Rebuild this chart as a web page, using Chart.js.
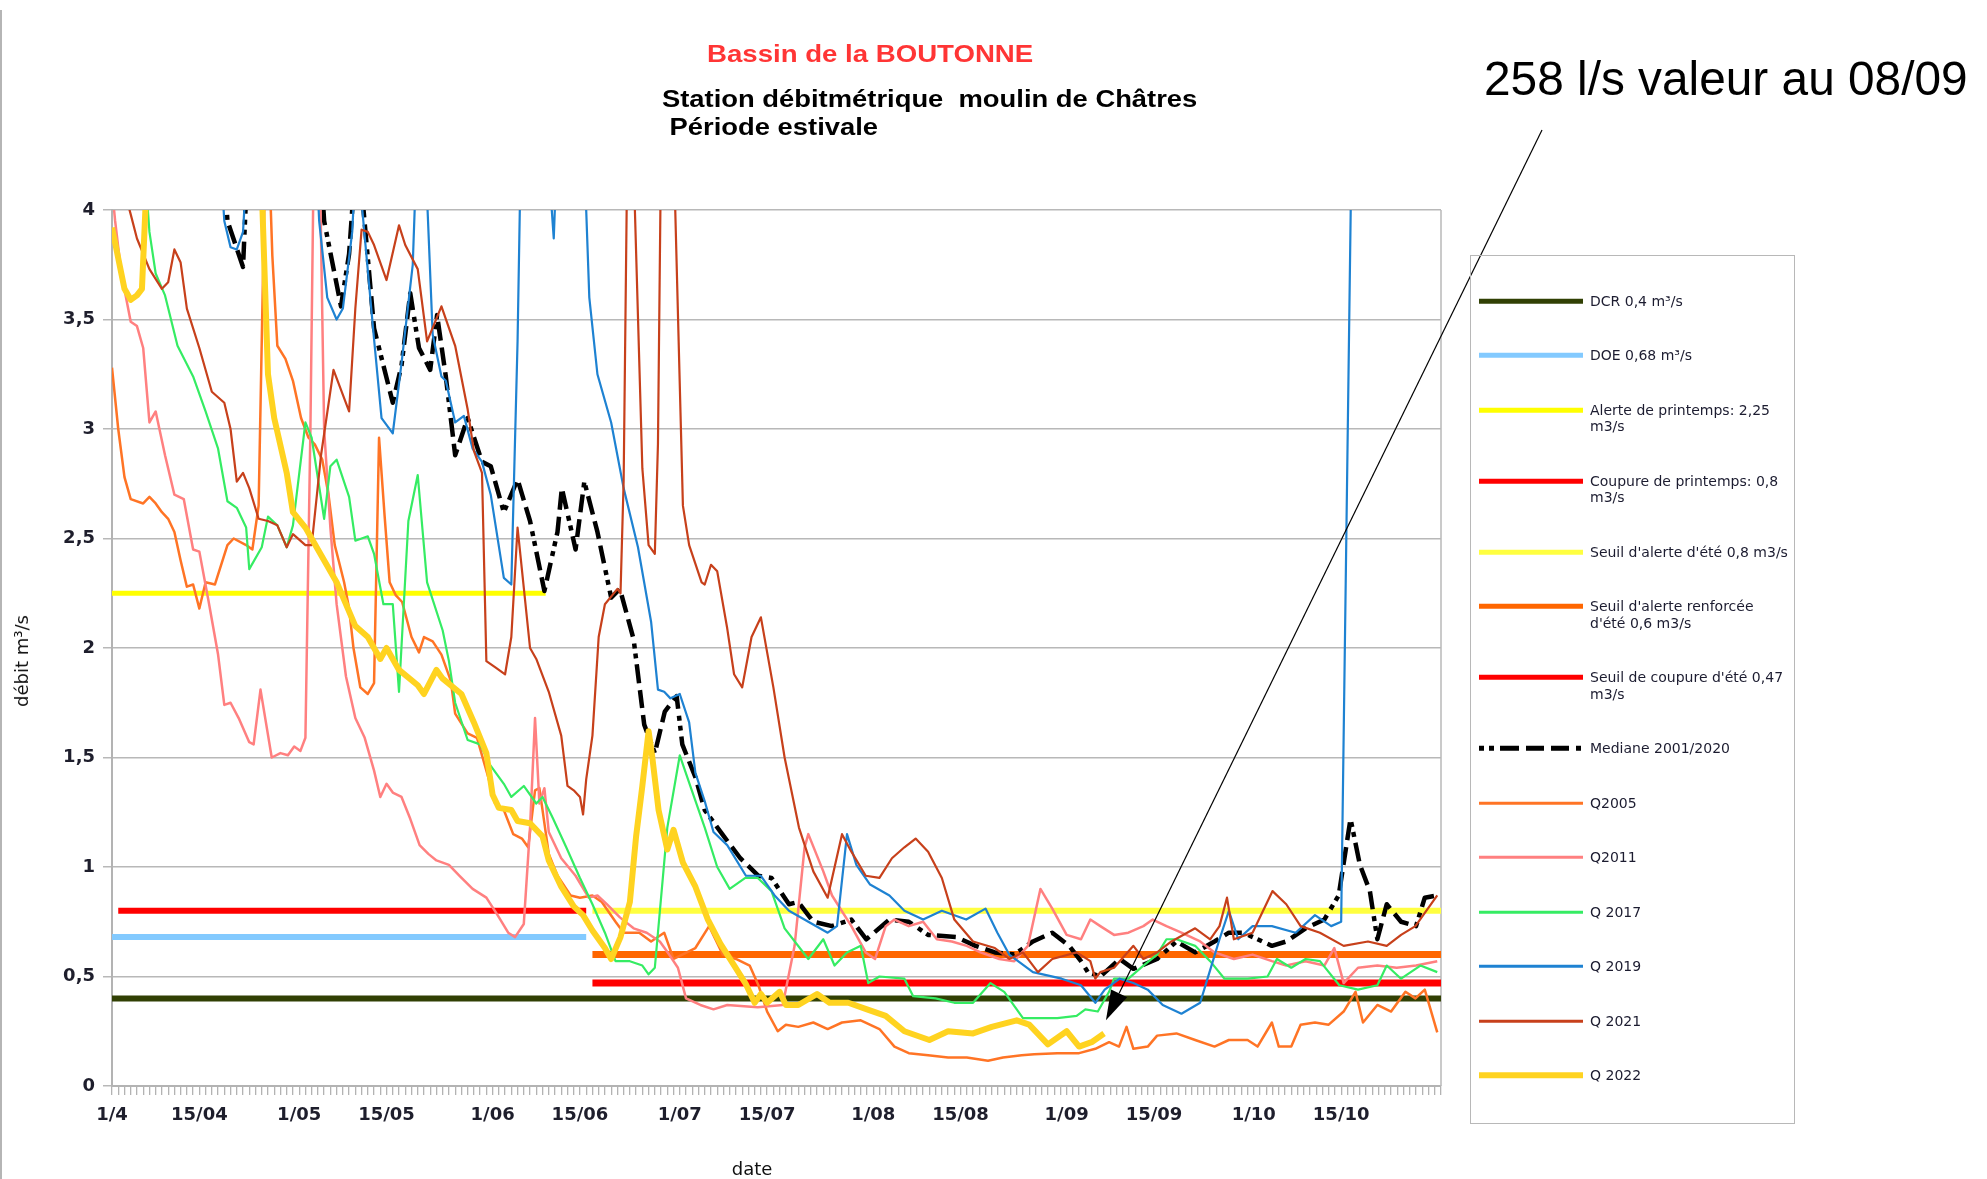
<!DOCTYPE html>
<html>
<head>
<meta charset="utf-8">
<script src="https://cdn.jsdelivr.net/npm/chart.js@4.4.1/dist/chart.umd.min.js"></script>
<style>
  body { margin: 0; background: #fff; width: 1987px; height: 1179px; position: relative; overflow: hidden; font-family: "DejaVu Sans", sans-serif; }
  #edge { position: absolute; left: 0; top: 10px; width: 2px; height: 1169px; background: #b5b5b5; }
  canvas { position: absolute; left: 0; top: 0; }
  .txt { position: absolute; white-space: pre; transform-origin: 0 0; }
  #t1 { left: 707px; top: 42px; font: bold 24px/24px "Liberation Sans", sans-serif; color: #ff3535; transform: scaleX(1.15); }
  #t2 { left: 662px; top: 85px; font: bold 23px/28.3px "Liberation Sans", sans-serif; color: #000; transform: scaleX(1.19); }
  #note { left: 1484px; top: 55px; font: 47.8px/47.8px "Liberation Sans", sans-serif; color: #000; }
  #ytitle { left: 22px; top: 661px; font: 18px/18px "DejaVu Sans", sans-serif; color: #111; transform: translate(-50%, -50%) rotate(-90deg); transform-origin: 50% 50%; }
  #xtitle { left: 752px; top: 1169px; font: 18px/18px "DejaVu Sans", sans-serif; color: #111; transform: translate(-50%, -50%); transform-origin: 50% 50%; }
  #legend { position: absolute; left: 1470px; top: 255px; width: 325px; height: 869px; box-sizing: border-box; border: 1px solid #b8b8b8; }
  .row { position: absolute; left: 0; width: 323px; }
  .row svg { position: absolute; left: 7px; top: 0; }
  .row span { position: absolute; left: 119px; top: 0; font: 14px/16.5px "DejaVu Sans", sans-serif; color: #1c1c30; white-space: pre; }
</style>
</head>
<body>
<div id="edge"></div>
<canvas id="chart" width="1987" height="1179"></canvas>
<div class="txt" id="t1">Bassin de la BOUTONNE</div>
<div class="txt" id="t2">Station débitmétrique  moulin de Châtres
 Période estivale</div>
<div class="txt" id="note">258 l/s valeur au 08/09</div>
<div class="txt" id="ytitle">débit m³/s</div>
<div class="txt" id="xtitle">date</div>
<div id="legend"></div>
<script>
// jours comptés depuis le 1/4
const tickDays = [0, 14, 30, 44, 61, 75, 91, 105, 122, 136, 153, 167, 183, 197]
const tickLabels = ["1/4", "15/04", "1/05", "15/05", "1/06", "15/06", "1/07", "15/07", "1/08", "15/08", "1/09", "15/09", "1/10", "15/10"]

// seuils : valeur, premier jour, dernier jour
const thresholdLabels = ["DCR 0,4 m³/s", "DOE 0,68 m³/s", "Alerte de printemps: 2,25\nm3/s", "Coupure de printemps: 0,8\nm3/s", "Seuil d'alerte d'été 0,8 m3/s", "Seuil d'alerte renforcée\nd'été 0,6 m3/s", "Seuil de coupure d'été 0,47\nm3/s"]
const thresholdValues = [0.4, 0.68, 2.25, 0.8, 0.8, 0.6, 0.47]
const thresholdFrom = [0, 0, 0, 1, 77, 77, 77]
const thresholdTo = [213, 76, 69.5, 76, 213, 213, 213]

// débits [jour, m3/s]
const mediane = [[0,4.5],[17.5,4.4],[18.5,3.95],[21,3.74],[22,4.4],[33,4.4],[34,3.95],[36.7,3.56],[38,3.8],[39.5,4.4],[40,4.1],[42,3.46],[45,3.12],[46.4,3.29],[47.8,3.62],[49.2,3.37],[51,3.27],[52.1,3.52],[53.5,3.24],[55,2.88],[57,3.05],[59.3,2.85],[60.7,2.83],[62.8,2.62],[65,2.77],[67,2.58],[69.3,2.26],[71.4,2.53],[72.1,2.73],[74.3,2.45],[75.7,2.76],[77.8,2.53],[80,2.23],[81.4,2.27],[83.6,2.04],[85.3,1.65],[87,1.52],[88.6,1.71],[90.5,1.78],[91.4,1.56],[93.5,1.41],[95,1.26],[97.8,1.15],[100.7,1.04],[103.6,0.96],[105.7,0.95],[108.5,0.83],[110,0.84],[112.4,0.75],[115.4,0.73],[118.5,0.76],[120.9,0.67],[124.6,0.76],[127.7,0.75],[130.8,0.69],[135.3,0.68],[138.4,0.64],[141.5,0.61],[144.6,0.6],[147.6,0.66],[150.7,0.7],[153.4,0.64],[155.3,0.57],[156.4,0.52],[158.4,0.5],[161.5,0.58],[163.7,0.535],[167.5,0.58],[170.6,0.66],[173.6,0.61],[176.7,0.66],[179,0.7],[181.3,0.7],[183.6,0.67],[185.9,0.64],[188.2,0.66],[191.3,0.72],[194.3,0.76],[196.6,0.87],[198.5,1.22],[200,1.01],[201.6,0.89],[202.8,0.67],[204.3,0.83],[206.6,0.75],[209,0.73],[210.4,0.86],[212.4,0.87]]

const q2005 = [[0,3.28],[1,3.0],[2,2.78],[3,2.68],[5,2.66],[6,2.69],[7,2.66],[8,2.62],[9,2.59],[10,2.53],[11,2.4],[12,2.28],[13,2.29],[14,2.18],[15,2.3],[16.5,2.29],[18.5,2.47],[19.5,2.5],[21.5,2.47],[22.5,2.45],[23.5,2.65],[24.2,3.7],[24.6,4.3],[25.1,4.3],[25.7,3.79],[26.5,3.38],[27.8,3.32],[29,3.22],[30.3,3.05],[31.5,2.96],[32.5,2.93],[33.7,2.86],[34.7,2.7],[35.7,2.47],[36.5,2.38],[37.2,2.3],[38,2.18],[38.7,2.0],[39.8,1.82],[41,1.79],[42,1.84],[42.8,2.96],[43.7,2.6],[44.5,2.3],[45.5,2.24],[46.5,2.21],[48,2.05],[49.2,1.98],[50,2.05],[51.4,2.03],[52.8,1.97],[54.3,1.85],[55,1.7],[57,1.61],[58.5,1.59],[60.3,1.41],[61.4,1.29],[62.8,1.26],[64.3,1.15],[65.7,1.13],[66.7,1.09],[67.8,1.35],[68.5,1.36],[70,1.06],[71.4,0.96],[73.5,0.87],[75,0.86],[77,0.87],[78.5,0.84],[80.7,0.75],[82,0.7],[84.5,0.7],[86.4,0.66],[88.5,0.7],[90,0.58],[91.4,0.6],[93.5,0.63],[95.7,0.73],[97.9,0.6],[100,0.58],[102.2,0.55],[103.6,0.46],[105,0.34],[106.7,0.25],[108,0.28],[110,0.27],[112.4,0.29],[114.7,0.26],[117,0.29],[120,0.3],[123,0.26],[125.4,0.18],[127.7,0.15],[130.8,0.14],[134,0.13],[137,0.13],[140.4,0.115],[142.8,0.13],[145.8,0.14],[147.8,0.145],[151.5,0.15],[155,0.15],[157.6,0.17],[159.8,0.2],[161.4,0.18],[162.6,0.27],[163.7,0.17],[166,0.18],[167.5,0.23],[170.6,0.24],[173.6,0.21],[176.7,0.18],[179,0.21],[182,0.21],[183.6,0.18],[185.9,0.29],[187,0.18],[189,0.18],[190.5,0.28],[192.8,0.29],[195,0.28],[197.4,0.34],[199.3,0.43],[200.5,0.29],[202.8,0.37],[205,0.34],[207.3,0.43],[208.9,0.4],[210.4,0.44],[212.4,0.245]]

const q2011 = [[0,4.1],[0.5,3.95],[1.5,3.71],[3,3.49],[4,3.47],[5,3.37],[6,3.03],[7,3.08],[8.5,2.88],[10,2.7],[11.5,2.68],[13,2.45],[14,2.44],[15.5,2.21],[17,1.97],[18,1.74],[19,1.75],[20.3,1.68],[22,1.57],[22.7,1.56],[23.8,1.81],[25.6,1.5],[27,1.52],[28.2,1.51],[29.2,1.55],[30.2,1.53],[31,1.59],[31.8,3.0],[32.4,4.4],[33.2,4.4],[34,3.0],[35,2.55],[36,2.2],[37.5,1.87],[39,1.68],[40.5,1.59],[42,1.44],[43,1.32],[44,1.38],[45,1.34],[46.4,1.32],[47.8,1.22],[49.3,1.1],[50.7,1.06],[52,1.03],[54,1.01],[55.7,0.96],[57.8,0.9],[60,0.86],[61.8,0.78],[63.5,0.7],[64.6,0.68],[66,0.74],[67,1.18],[67.8,1.68],[68.5,1.29],[69.3,1.36],[70,1.16],[72,1.04],[74.3,0.96],[76.4,0.86],[77.8,0.87],[79.3,0.83],[81.4,0.77],[83.6,0.72],[85.7,0.7],[87.8,0.66],[89.3,0.6],[90.7,0.54],[92,0.4],[94.3,0.37],[96.4,0.35],[98.6,0.37],[103.5,0.36],[107.5,0.37],[109.4,0.64],[111,1.09],[111.6,1.15],[114,0.98],[115.4,0.87],[118.5,0.73],[120.8,0.61],[122.3,0.58],[124,0.73],[125.4,0.76],[127.7,0.73],[130,0.75],[132.2,0.67],[134.6,0.66],[137,0.64],[139.2,0.61],[142.2,0.58],[144.6,0.57],[146.8,0.64],[148.8,0.9],[150.7,0.81],[153,0.69],[155.3,0.67],[156.8,0.76],[158.4,0.73],[160.6,0.69],[162.9,0.7],[165.3,0.73],[166.8,0.76],[169,0.73],[171.4,0.7],[174.4,0.66],[176.7,0.61],[179.8,0.58],[182.8,0.6],[185.9,0.57],[188.2,0.55],[191.3,0.57],[194.3,0.55],[195.9,0.63],[197.4,0.47],[199.7,0.54],[202.8,0.55],[205.9,0.54],[209,0.55],[212.4,0.57]]

const q2017 = [[5,4.3],[6,3.9],[7,3.71],[8.5,3.61],[10.5,3.38],[13,3.24],[15,3.08],[17,2.91],[18.5,2.67],[20,2.64],[21.5,2.55],[22,2.36],[24,2.46],[25,2.6],[26.5,2.56],[28,2.46],[29,2.56],[31,3.03],[32,2.96],[34,2.59],[35,2.83],[36,2.86],[38,2.69],[39,2.49],[41,2.51],[42,2.43],[43.5,2.2],[45,2.2],[46,1.8],[47.5,2.58],[49,2.79],[50.5,2.3],[53,2.08],[54,1.94],[55,1.75],[57,1.58],[59,1.56],[60.5,1.47],[62.8,1.38],[64,1.32],[66,1.37],[68,1.29],[69,1.32],[70.7,1.22],[72.8,1.09],[75,0.95],[77,0.83],[79,0.7],[80.7,0.57],[83,0.57],[85,0.55],[86,0.51],[87,0.54],[89,1.18],[91,1.51],[92.8,1.36],[95,1.18],[97,1.0],[99,0.9],[101.5,0.95],[103.5,0.95],[105.7,0.89],[107.8,0.72],[111.6,0.58],[114,0.67],[115.8,0.55],[117.8,0.61],[120,0.64],[121.2,0.47],[123,0.5],[127,0.49],[128.4,0.41],[132,0.4],[135,0.38],[138,0.38],[140.8,0.47],[143,0.43],[146,0.31],[149,0.31],[151.5,0.31],[154.6,0.32],[156,0.35],[158,0.34],[159.8,0.43],[160.6,0.49],[162.9,0.49],[165.3,0.55],[167.5,0.6],[169,0.67],[170.6,0.67],[173.6,0.64],[176,0.57],[178.3,0.49],[182,0.49],[185.2,0.5],[186.7,0.58],[189,0.54],[191.3,0.58],[193.6,0.57],[196.7,0.46],[199.7,0.44],[202.8,0.46],[204.3,0.55],[206.6,0.49],[209.7,0.55],[212.4,0.52]]

const q2019 = [[0,4.5],[17,4.4],[18,3.95],[19,3.83],[20,3.82],[21,3.9],[22,4.4],[32.5,4.4],[33.2,3.95],[34.5,3.6],[36,3.5],[37,3.55],[38.5,3.9],[39.2,4.3],[39.8,4.1],[42,3.41],[43.2,3.05],[45,2.98],[46.4,3.3],[48.2,3.75],[49,4.4],[50,4.4],[51.4,3.43],[52.8,3.24],[53.5,3.22],[55,3.03],[56.4,3.06],[57.8,2.91],[59.3,2.85],[60.7,2.7],[62.8,2.32],[64,2.29],[65,3.4],[65.6,4.4],[69.5,4.4],[70.8,3.87],[71.5,4.4],[75.5,4.4],[76.5,3.6],[77.8,3.25],[80,3.03],[82,2.73],[84.3,2.46],[86.4,2.12],[87.5,1.81],[88.5,1.8],[89.5,1.77],[91,1.79],[92.5,1.66],[93.5,1.43],[95,1.3],[96.4,1.16],[98.6,1.1],[101.6,0.96],[104,0.96],[106.2,0.87],[108.5,0.8],[111.6,0.75],[114.7,0.7],[116.2,0.73],[117.8,1.15],[119.3,1.01],[121.5,0.92],[124.6,0.87],[127,0.8],[130,0.76],[133,0.8],[136.9,0.76],[140,0.81],[141.9,0.7],[143.8,0.6],[147.6,0.52],[152.2,0.49],[155.3,0.46],[157.6,0.38],[159.1,0.44],[161.5,0.49],[163.7,0.47],[166,0.44],[168.4,0.37],[171.4,0.33],[174.4,0.38],[175.9,0.52],[177.5,0.67],[179,0.8],[180.5,0.67],[182.8,0.73],[185.9,0.73],[189.7,0.7],[192.8,0.78],[195.4,0.73],[197,0.75],[199,5]]

const q2021 = [[0,4.3],[3,3.98],[4,3.87],[6,3.73],[8,3.64],[9,3.67],[10,3.82],[11,3.76],[12,3.55],[14,3.37],[16,3.17],[18,3.12],[19,3.0],[20,2.76],[21,2.8],[22,2.73],[23.5,2.59],[25,2.58],[26.5,2.56],[28,2.46],[29,2.52],[31,2.47],[32,2.47],[33.5,2.88],[35.5,3.27],[38,3.08],[39,3.55],[40,3.91],[41,3.9],[42,3.84],[44,3.68],[46,3.93],[47,3.84],[49,3.73],[50.5,3.4],[52.8,3.56],[55,3.38],[57,3.09],[58,2.9],[59.3,2.8],[60,1.94],[61.5,1.91],[63,1.88],[64,2.05],[65,2.55],[67,2.0],[68,1.95],[70,1.8],[72,1.6],[73,1.37],[74,1.35],[75,1.32],[75.5,1.24],[76,1.4],[77,1.6],[78,2.05],[79,2.2],[81,2.27],[81.5,2.25],[82,2.76],[82.6,4.3],[83.5,4.3],[85,2.82],[86,2.47],[87,2.43],[87.5,2.93],[88,4.3],[90,4.3],[91.5,2.65],[92.5,2.47],[94.5,2.3],[95,2.29],[96,2.38],[97,2.35],[98.6,2.09],[99.7,1.88],[101,1.82],[102.5,2.05],[104,2.14],[105,1.98],[106,1.82],[107.8,1.5],[110.1,1.18],[112.4,0.98],[114.7,0.86],[117,1.15],[118.5,1.07],[120.8,0.96],[123,0.95],[125,1.04],[127,1.09],[128.8,1.13],[130.8,1.07],[133,0.95],[135,0.76],[138,0.66],[141.5,0.63],[143.8,0.58],[146,0.61],[148.4,0.52],[150.7,0.58],[154.6,0.61],[156.8,0.57],[157.6,0.49],[158.4,0.52],[160.6,0.54],[163.7,0.64],[165.3,0.58],[167.5,0.61],[169.8,0.66],[173.6,0.72],[176,0.67],[177.5,0.73],[178.7,0.86],[179.8,0.67],[182.8,0.7],[186,0.89],[188.2,0.83],[190.5,0.73],[193.6,0.7],[197.4,0.64],[201.3,0.66],[204.3,0.64],[206.6,0.69],[208.9,0.73],[212.4,0.87]]

const q2022 = [[0,3.92],[2,3.64],[3,3.59],[4,3.61],[4.8,3.64],[5.5,4.1],[6,4.6],[23,4.6],[24,4.1],[25,3.25],[26,3.05],[28,2.8],[29,2.62],[31,2.55],[33,2.45],[36,2.3],[39,2.1],[41,2.05],[43,1.95],[44,2.0],[46,1.9],[49,1.83],[50,1.79],[52,1.9],[53,1.86],[56,1.79],[58,1.66],[60,1.52],[61,1.33],[62,1.27],[64,1.26],[65,1.21],[67,1.2],[69,1.14],[70,1.03],[72,0.91],[74,0.82],[75.5,0.78],[77,0.71],[79,0.63],[80,0.58],[81.5,0.68],[83,0.84],[84,1.14],[85,1.37],[86,1.62],[86.6,1.5],[87.6,1.26],[89,1.08],[90,1.17],[91.5,1.02],[93.5,0.91],[95.5,0.76],[97.5,0.65],[99.5,0.56],[101.5,0.47],[103,0.38],[104,0.42],[105,0.38],[107,0.43],[108,0.37],[110,0.37],[113,0.42],[115,0.38],[118,0.38],[121,0.35],[124,0.32],[127,0.25],[131,0.21],[134,0.25],[138,0.24],[141,0.27],[145,0.3],[147,0.28],[150,0.19],[153,0.25],[155,0.18],[157,0.2],[159,0.24]]

const seriesLabels = ["Mediane 2001/2020", "Q2005", "Q2011", "Q 2017", "Q 2019", "Q 2021", "Q 2022"]
const seriesData = [mediane, q2005, q2011, q2017, q2019, q2021, q2022]

// flèche vers la dernière valeur 2022
const arrowTip = [159.3, 0.3]

const thresholdColors = ["#314004", "#83caff", "#ffff00", "#ff0000", "#ffff40", "#ff6600", "#ff0000"]
const thresholdWidths = [6, 6, 5, 6, 6, 7, 7]
const seriesColors = ["#000000", "#ff7425", "#ff8080", "#35ec63", "#1e82d2", "#c7401b", "#ffd320"]
const seriesWidths = [4.5, 2.5, 2.5, 2.2, 2.2, 2.2, 6]

let datasets = []
for (let i = 0; i < thresholdValues.length; i++) {
    datasets.push({
        label: thresholdLabels[i],
        data: [{x: thresholdFrom[i], y: thresholdValues[i]}, {x: thresholdTo[i], y: thresholdValues[i]}],
        borderColor: thresholdColors[i],
        borderWidth: thresholdWidths[i],
        legendWidth: Math.min(thresholdWidths[i], 5)
    })
}
for (let i = 0; i < seriesData.length; i++) {
    datasets.push({
        label: seriesLabels[i],
        data: seriesData[i].map(p => ({x: p[0], y: p[1]})),
        borderColor: seriesColors[i],
        borderWidth: seriesWidths[i],
        borderDash: i == 0 ? [5, 5, 5, 6, 19, 7, 18, 7, 18, 7] : [],
        legendWidth: i == 0 ? 5 : (i == 6 ? 6 : 3)
    })
}
// premier dessiné en dessous, Q 2022 au-dessus
datasets.forEach((d, i) => {
    d.order = datasets.length - i
    d.clip = 0
    d.pointRadius = 0
    d.fill = false
})

const framePlugin = {
    id: 'frame',
    beforeDatasetsDraw(chart) {
        const a = chart.chartArea
        const c = chart.ctx
        c.save()
        c.strokeStyle = '#b8b8b8'
        c.lineWidth = 1.5
        c.beginPath()
        c.moveTo(a.right, a.top)
        c.lineTo(a.right, a.bottom)
        c.stroke()
        c.restore()
    }
}

const arrowPlugin = {
    id: 'arrow',
    afterDatasetsDraw(chart) {
        const c = chart.ctx
        const tx = chart.scales.x.getPixelForValue(arrowTip[0])
        const ty = chart.scales.y.getPixelForValue(arrowTip[1])
        const sx = 1542, sy = 130
        const ang = Math.atan2(ty - sy, tx - sx)
        const len = 30, half = 9
        const bx = tx - len * Math.cos(ang), by = ty - len * Math.sin(ang)
        c.save()
        c.strokeStyle = '#000'
        c.lineWidth = 1.2
        c.beginPath()
        c.moveTo(sx, sy)
        c.lineTo(bx, by)
        c.stroke()
        c.fillStyle = '#000'
        c.beginPath()
        c.moveTo(tx, ty)
        c.lineTo(bx + half * Math.sin(ang), by - half * Math.cos(ang))
        c.lineTo(bx - half * Math.sin(ang), by + half * Math.cos(ang))
        c.closePath()
        c.fill()
        c.restore()
    }
}

const tickFont = {family: 'DejaVu Sans', size: 18, weight: 'bold'}

new Chart(document.getElementById('chart'), {
    type: 'line',
    data: {datasets: datasets},
    options: {
        responsive: false,
        animation: false,
        layout: {padding: {left: 0, top: 210, right: 546, bottom: 0}},
        elements: {line: {tension: 0, borderJoinStyle: 'round'}},
        plugins: {legend: {display: false}, tooltip: {enabled: false}},
        scales: {
            x: {
                type: 'linear', min: 0, max: 213,
                afterFit: s => { s.height = 93 },
                grid: {drawOnChartArea: false, tickLength: 9, color: '#b3b3b3', lineWidth: 1.3},
                border: {color: '#b3b3b3', width: 2},
                ticks: {
                    stepSize: 1, autoSkip: false, maxRotation: 0, padding: 10,
                    font: tickFont, color: '#1e1e2c',
                    callback: v => {
                        const k = tickDays.indexOf(v)
                        return k >= 0 ? tickLabels[k] : ''
                    }
                }
            },
            y: {
                min: 0, max: 4,
                afterFit: s => { s.width = 112 },
                grid: {tickLength: 9, color: '#b8b8b8', lineWidth: 1.5},
                border: {color: '#b3b3b3', width: 2},
                ticks: {stepSize: 0.5, padding: 8, font: tickFont, color: '#1e1e2c',
                    callback: v => String(v).replace('.', ',')}
            }
        }
    },
    plugins: [framePlugin, arrowPlugin]
})

// légende
const legend = document.getElementById('legend')
let rowY = 45
datasets.forEach(d => {
    const lines = d.label.split('\n').length
    const row = document.createElement('div')
    row.className = 'row'
    row.style.top = (rowY - 8.25) + 'px'
    const dash = d.borderDash && d.borderDash.length ? ` stroke-dasharray="${d.borderDash.join(' ')}"` : ''
    row.innerHTML = `<svg width="106" height="17"><line x1="1" y1="8.25" x2="105" y2="8.25" stroke="${d.borderColor}" stroke-width="${d.legendWidth}"${dash}/></svg><span></span>`
    row.querySelector('span').textContent = d.label
    legend.appendChild(row)
    rowY += 54.5 + 16.5 * (lines - 1)
})
</script>
</body>
</html>
